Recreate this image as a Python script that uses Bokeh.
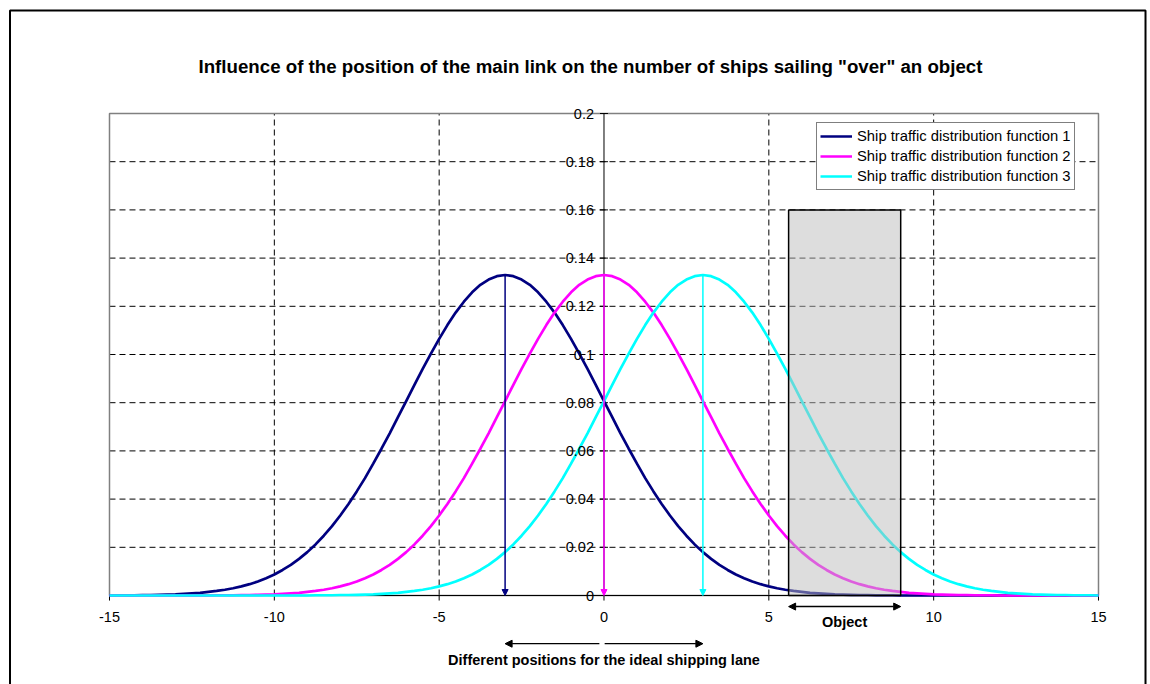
from bokeh.plotting import figure
from bokeh.models import (Range1d, Label, LabelSet, ColumnDataSource,
                          Arrow, NormalHead, Legend, LegendItem)
from bokeh.core.properties import value
from bokeh.embed import file_html
from bokeh.resources import INLINE

# ---------------- data ----------------
x_vals = [-15.0, -14.75, -14.5, -14.25, -14.0, -13.75, -13.5, -13.25,
          -13.0, -12.75, -12.5, -12.25, -12.0, -11.75, -11.5, -11.25,
          -11.0, -10.75, -10.5, -10.25, -10.0, -9.75, -9.5, -9.25,
          -9.0, -8.75, -8.5, -8.25, -8.0, -7.75, -7.5, -7.25,
          -7.0, -6.75, -6.5, -6.25, -6.0, -5.75, -5.5, -5.25,
          -5.0, -4.75, -4.5, -4.25, -4.0, -3.75, -3.5, -3.25,
          -3.0, -2.75, -2.5, -2.25, -2.0, -1.75, -1.5, -1.25,
          -1.0, -0.75, -0.5, -0.25, 0.0, 0.25, 0.5, 0.75,
          1.0, 1.25, 1.5, 1.75, 2.0, 2.25, 2.5, 2.75,
          3.0, 3.25, 3.5, 3.75, 4.0, 4.25, 4.5, 4.75,
          5.0, 5.25, 5.5, 5.75, 6.0, 6.25, 6.5, 6.75,
          7.0, 7.25, 7.5, 7.75, 8.0, 8.25, 8.5, 8.75,
          9.0, 9.25, 9.5, 9.75, 10.0, 10.25, 10.5, 10.75,
          11.0, 11.25, 11.5, 11.75, 12.0, 12.25, 12.5, 12.75,
          13.0, 13.25, 13.5, 13.75, 14.0, 14.25, 14.5, 14.75, 15.0]

series1 = [0.0000, 0.0001, 0.0001, 0.0001, 0.0002, 0.0002, 0.0003, 0.0004,
           0.0005, 0.0007, 0.0009, 0.0011, 0.0015, 0.0019, 0.0024, 0.0030,
           0.0038, 0.0047, 0.0058, 0.0072, 0.0087, 0.0106, 0.0127, 0.0152,
           0.0180, 0.0212, 0.0248, 0.0288, 0.0332, 0.0380, 0.0432, 0.0487,
           0.0547, 0.0609, 0.0673, 0.0740, 0.0807, 0.0874, 0.0940, 0.1004,
           0.1065, 0.1122, 0.1174, 0.1219, 0.1258, 0.1289, 0.1311, 0.1325,
           0.1330, 0.1325, 0.1311, 0.1289, 0.1258, 0.1219, 0.1174, 0.1122,
           0.1065, 0.1004, 0.0940, 0.0874, 0.0807, 0.0740, 0.0673, 0.0609,
           0.0547, 0.0487, 0.0432, 0.0380, 0.0332, 0.0288, 0.0248, 0.0212,
           0.0180, 0.0152, 0.0127, 0.0106, 0.0087, 0.0072, 0.0058, 0.0047,
           0.0038, 0.0030, 0.0024, 0.0019, 0.0015, 0.0011, 0.0009, 0.0007,
           0.0005, 0.0004, 0.0003, 0.0002, 0.0002, 0.0001, 0.0001, 0.0001,
           0.0000, 0.0000, 0.0000, 0.0000, 0.0000, 0.0000, 0.0000, 0.0000,
           0.0000, 0.0000, 0.0000, 0.0000, 0.0000, 0.0000, 0.0000, 0.0000,
           0.0000, 0.0000, 0.0000, 0.0000, 0.0000, 0.0000, 0.0000, 0.0000, 0.0000]

series2 = [0.0000, 0.0000, 0.0000, 0.0000, 0.0000, 0.0000, 0.0000, 0.0000,
           0.0000, 0.0000, 0.0000, 0.0000, 0.0000, 0.0001, 0.0001, 0.0001,
           0.0002, 0.0002, 0.0003, 0.0004, 0.0005, 0.0007, 0.0009, 0.0011,
           0.0015, 0.0019, 0.0024, 0.0030, 0.0038, 0.0047, 0.0058, 0.0072,
           0.0087, 0.0106, 0.0127, 0.0152, 0.0180, 0.0212, 0.0248, 0.0288,
           0.0332, 0.0380, 0.0432, 0.0487, 0.0547, 0.0609, 0.0673, 0.0740,
           0.0807, 0.0874, 0.0940, 0.1004, 0.1065, 0.1122, 0.1174, 0.1219,
           0.1258, 0.1289, 0.1311, 0.1325, 0.1330, 0.1325, 0.1311, 0.1289,
           0.1258, 0.1219, 0.1174, 0.1122, 0.1065, 0.1004, 0.0940, 0.0874,
           0.0807, 0.0740, 0.0673, 0.0609, 0.0547, 0.0487, 0.0432, 0.0380,
           0.0332, 0.0288, 0.0248, 0.0212, 0.0180, 0.0152, 0.0127, 0.0106,
           0.0087, 0.0072, 0.0058, 0.0047, 0.0038, 0.0030, 0.0024, 0.0019,
           0.0015, 0.0011, 0.0009, 0.0007, 0.0005, 0.0004, 0.0003, 0.0002,
           0.0002, 0.0001, 0.0001, 0.0001, 0.0000, 0.0000, 0.0000, 0.0000,
           0.0000, 0.0000, 0.0000, 0.0000, 0.0000, 0.0000, 0.0000, 0.0000, 0.0000]

series3 = [0.0000, 0.0000, 0.0000, 0.0000, 0.0000, 0.0000, 0.0000, 0.0000,
           0.0000, 0.0000, 0.0000, 0.0000, 0.0000, 0.0000, 0.0000, 0.0000,
           0.0000, 0.0000, 0.0000, 0.0000, 0.0000, 0.0000, 0.0000, 0.0000,
           0.0000, 0.0001, 0.0001, 0.0001, 0.0002, 0.0002, 0.0003, 0.0004,
           0.0005, 0.0007, 0.0009, 0.0011, 0.0015, 0.0019, 0.0024, 0.0030,
           0.0038, 0.0047, 0.0058, 0.0072, 0.0087, 0.0106, 0.0127, 0.0152,
           0.0180, 0.0212, 0.0248, 0.0288, 0.0332, 0.0380, 0.0432, 0.0487,
           0.0547, 0.0609, 0.0673, 0.0740, 0.0807, 0.0874, 0.0940, 0.1004,
           0.1065, 0.1122, 0.1174, 0.1219, 0.1258, 0.1289, 0.1311, 0.1325,
           0.1330, 0.1325, 0.1311, 0.1289, 0.1258, 0.1219, 0.1174, 0.1122,
           0.1065, 0.1004, 0.0940, 0.0874, 0.0807, 0.0740, 0.0673, 0.0609,
           0.0547, 0.0487, 0.0432, 0.0380, 0.0332, 0.0288, 0.0248, 0.0212,
           0.0180, 0.0152, 0.0127, 0.0106, 0.0087, 0.0072, 0.0058, 0.0047,
           0.0038, 0.0030, 0.0024, 0.0019, 0.0015, 0.0011, 0.0009, 0.0007,
           0.0005, 0.0004, 0.0003, 0.0002, 0.0002, 0.0001, 0.0001, 0.0001, 0.0000]

series_names = ["Ship traffic distribution function 1",
                "Ship traffic distribution function 2",
                "Ship traffic distribution function 3"]
lane_means = [-3.0, 0.0, 3.0]
lane_peaks = [0.1330, 0.1330, 0.1330]

object_left = 5.6
object_right = 9.0
object_top = 0.16

x_ticks = [-15, -10, -5, 0, 5, 10, 15]
x_tick_labels = ["-15", "-10", "-5", "0", "5", "10", "15"]
y_ticks = [0.0, 0.02, 0.04, 0.06, 0.08, 0.10, 0.12, 0.14, 0.16, 0.18, 0.20]
y_tick_labels = ["0", "0.02", "0.04", "0.06", "0.08", "0.1", "0.12", "0.14", "0.16", "0.18", "0.2"]

title_text = 'Influence of the position of the main link on the number of ships sailing "over" an object'
object_text = "Object"
lane_text = "Different positions for the ideal shipping lane"

# ---------------- style / layout ----------------
colors = ["#000080", "#FF00FF", "#00FFFF"]
FONT = "Liberation Sans"
X0, X1 = x_ticks[0], x_ticks[-1]
Y0, Y1 = y_ticks[0], y_ticks[-1]

# the frame covers the whole chart area; the plot area (-15..15, 0..0.2) sits inside it
p = figure(width=1148, height=684,
           x_range=Range1d(-18.3063, 16.5167), y_range=Range1d(-0.036929, 0.246888),
           output_backend="svg", toolbar_location=None, title=None,
           x_axis_location=None, y_axis_location=None,
           min_border=0, min_border_left=0, min_border_right=0,
           min_border_top=0, min_border_bottom=0)
p.grid.visible = False
p.outline_line_color = None
p.background_fill_color = "white"
p.border_fill_color = "white"

# chart border (outer box; its bottom edge lies below the visible window)
p.quad(left=[-18.018], right=[16.426], top=[0.24274], bottom=[-0.05],
       fill_color=None, line_color="black", line_width=2)

# gridlines
vx = [t for t in x_ticks if t not in (X0, X1, 0)]
p.segment(x0=vx, y0=[Y0] * len(vx), x1=vx, y1=[Y1] * len(vx),
          line_color="black", line_width=1, line_dash="6 4")
hy = y_ticks[1:-1]
p.segment(x0=[X0] * len(hy), y0=hy, x1=[X1] * len(hy), y1=hy,
          line_color="black", line_width=1, line_dash="6 4")

# plot-area outline
p.quad(left=[X0], right=[X1], bottom=[Y0], top=[Y1], fill_color=None,
       line_color="#808080", line_width=1.5)

# x axis along y = 0
p.segment(x0=[X0], y0=[Y0], x1=[X1], y1=[Y0], line_color="black", line_width=1)
p.segment(x0=x_ticks, y0=[Y0] * len(x_ticks), x1=x_ticks, y1=[-0.0021] * len(x_ticks),
          line_color="black", line_width=1)
xsrc = ColumnDataSource(dict(x=x_ticks, y=[-0.0091] * len(x_ticks), t=x_tick_labels))
p.add_layout(LabelSet(x="x", y="y", text="t", source=xsrc,
                      text_align="center", text_baseline="middle",
                      text_font=value(FONT), text_font_size=value("14.5px"),
                      text_color="black"))

# y axis along x = 0
p.segment(x0=[0], y0=[Y0], x1=[0], y1=[Y1], line_color="black", line_width=1)
p.scatter(x=[0] * len(y_ticks), y=y_ticks, marker="dash", size=8,
          line_color="black", line_width=1)
ysrc = ColumnDataSource(dict(x=[0] * len(y_ticks), y=y_ticks, t=y_tick_labels))
p.add_layout(LabelSet(x="x", y="y", text="t", source=ysrc, x_offset=-10,
                      text_align="right", text_baseline="middle",
                      text_font=value(FONT), text_font_size=value("14.5px"),
                      text_color="black"))

# curves
items = []
for ys, name, c in zip([series1, series2, series3], series_names, colors):
    r = p.line(x_vals, ys, line_color=c, line_width=2.7)
    items.append(LegendItem(label=name, renderers=[r]))

# vertical lines from the peaks down to the axis
for m, pk, c in zip(lane_means, lane_peaks, colors):
    p.add_layout(Arrow(end=NormalHead(size=6, fill_color=c, line_color=c, line_width=1),
                       x_start=m, y_start=pk, x_end=m, y_end=Y0,
                       line_color=c, line_width=1.5))

# object rectangle (semi-transparent, drawn over the curves)
p.quad(left=[object_left], right=[object_right], bottom=[Y0], top=[object_top],
       fill_color="#BBBBBB", fill_alpha=0.5, line_color="black", line_width=1.5)

# legend
legend = Legend(items=items, location=(816, 494), orientation="vertical",
                label_text_font=FONT, label_text_font_size="14.8px", label_text_color="black",
                glyph_width=32, glyph_height=20, label_height=20, label_standoff=5,
                padding=3, spacing=0, margin=0,
                border_line_color="black", border_line_width=1,
                background_fill_color="white", background_fill_alpha=1.0)
p.add_layout(legend)

# title
p.add_layout(Label(x=-0.41, y=0.2195, text=title_text, text_align="center",
                   text_baseline="middle", text_font=FONT, text_font_size="18.7px",
                   text_font_style="bold", text_color="black"))

# object annotation
y_obj_arrow = -0.0046
head = dict(size=7, fill_color="black", line_color="black", line_width=1)
p.add_layout(Arrow(start=NormalHead(**head), end=NormalHead(**head),
                   x_start=object_left, y_start=y_obj_arrow,
                   x_end=object_right, y_end=y_obj_arrow,
                   line_color="black", line_width=1.5))
p.add_layout(Label(x=(object_left + object_right) / 2, y=-0.0111, text=object_text,
                   text_align="center", text_baseline="middle", text_font=FONT,
                   text_font_size="14.5px", text_font_style="bold", text_color="black"))

# lane annotation
y_lane_arrow = -0.0200
p.add_layout(Arrow(end=NormalHead(**head),
                   x_start=-0.14, y_start=y_lane_arrow, x_end=lane_means[0], y_end=y_lane_arrow,
                   line_color="black", line_width=1.2))
p.add_layout(Arrow(end=NormalHead(**head),
                   x_start=0.02, y_start=y_lane_arrow, x_end=lane_means[2], y_end=y_lane_arrow,
                   line_color="black", line_width=1.2))
p.add_layout(Label(x=0, y=-0.0267, text=lane_text,
                   text_align="center", text_baseline="middle", text_font=FONT,
                   text_font_size="14.5px", text_font_style="bold", text_color="black"))

open("out.html", "w").write(file_html(p, INLINE))
